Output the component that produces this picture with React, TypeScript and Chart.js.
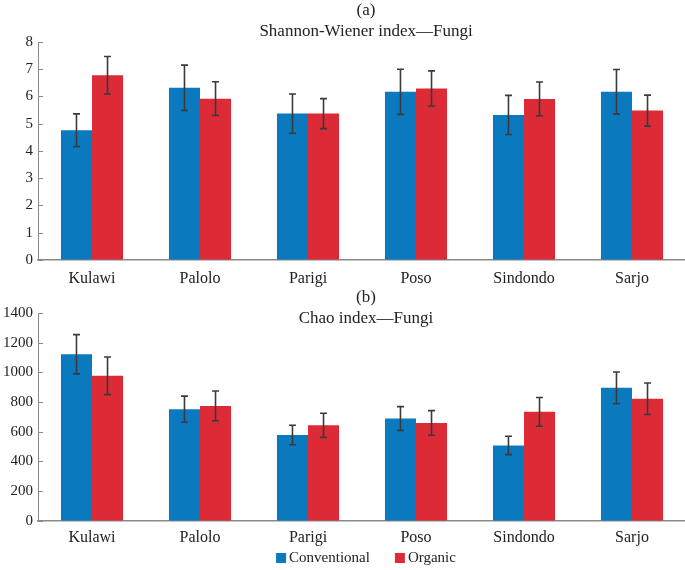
import React, { useEffect, useRef } from "react";
import { Chart, registerables } from "chart.js";

Chart.register(...registerables);

const categories = ["Kulawi", "Palolo", "Parigi", "Poso", "Sindondo", "Sarjo"];
const seriesNames = ["Conventional", "Organic"];

const shannonConventional = [4.76, 6.32, 5.37, 6.17, 5.32, 6.17];
const shannonConventionalErr = [0.6, 0.83, 0.72, 0.83, 0.72, 0.82];
const shannonOrganic = [6.78, 5.92, 5.37, 6.29, 5.91, 5.48];
const shannonOrganicErr = [0.69, 0.62, 0.55, 0.65, 0.62, 0.57];

const chaoConventional = [1122, 752, 578, 689, 508, 896];
const chaoConventionalErr = [132, 88, 66, 80, 62, 107];
const chaoOrganic = [977, 774, 643, 659, 734, 822];
const chaoOrganicErr = [127, 100, 82, 83, 97, 106];

const BLUE = "#0a79be";
const RED = "#dc2a36";
const FONT = "'Liberation Serif', 'Times New Roman', serif";
const TEXT = "#222222";
const AXIS = "#8a8a8a";

const errorBarPlugin = {
  id: "errorBars",
  afterDatasetsDraw(chart: any) {
    const ctx = chart.ctx;
    const y = chart.scales.y;
    chart.data.datasets.forEach((ds: any, i: number) => {
      const meta = chart.getDatasetMeta(i);
      meta.data.forEach((bar: any, j: number) => {
        const v = ds.data[j];
        const e = ds.errors[j];
        const yt = y.getPixelForValue(v + e);
        const yb = y.getPixelForValue(v - e);
        ctx.save();
        ctx.strokeStyle = "#3a3a3a";
        ctx.lineWidth = 1.6;
        ctx.beginPath();
        ctx.moveTo(bar.x, yt);
        ctx.lineTo(bar.x, yb);
        ctx.moveTo(bar.x - 3.5, yt);
        ctx.lineTo(bar.x + 3.5, yt);
        ctx.moveTo(bar.x - 3.5, yb);
        ctx.lineTo(bar.x + 3.5, yb);
        ctx.stroke();
        ctx.restore();
      });
    });
  },
};

const innerTicksPlugin = {
  id: "innerTicks",
  afterDraw(chart: any) {
    const ctx = chart.ctx;
    const y = chart.scales.y;
    const left = chart.chartArea.left;
    ctx.save();
    ctx.strokeStyle = AXIS;
    ctx.lineWidth = 1;
    y.ticks.forEach((t: any) => {
      const py = Math.round(y.getPixelForValue(t.value)) + 0.5;
      ctx.beginPath();
      ctx.moveTo(left, py);
      ctx.lineTo(left + 5, py);
      ctx.stroke();
    });
    ctx.restore();
  },
};

const headerPlugin = {
  id: "header",
  afterDraw(chart: any, _args: any, opts: any) {
    const ctx = chart.ctx;
    const cx = (chart.chartArea.left + chart.chartArea.right) / 2 + 4;
    ctx.save();
    ctx.fillStyle = TEXT;
    ctx.font = `17px ${FONT}`;
    ctx.textAlign = "center";
    ctx.textBaseline = "middle";
    ctx.fillText(opts.label, cx, 11);
    ctx.fillText(opts.title, cx, 32);
    if (opts.legend) {
      ctx.font = `15px ${FONT}`;
      ctx.textAlign = "left";
      const w1 = ctx.measureText(seriesNames[0]).width;
      const w2 = ctx.measureText(seriesNames[1]).width;
      const total = 10 + 3 + w1 + 25 + 10 + 3 + w2;
      let x = cx - total / 2;
      const ly = opts.legendY;
      ctx.fillStyle = BLUE;
      ctx.fillRect(x, ly - 5, 10, 10);
      x += 13;
      ctx.fillStyle = TEXT;
      ctx.fillText(seriesNames[0], x, ly);
      x += w1 + 25;
      ctx.fillStyle = RED;
      ctx.fillRect(x, ly - 5, 10, 10);
      x += 13;
      ctx.fillStyle = TEXT;
      ctx.fillText(seriesNames[1], x, ly);
    }
    ctx.restore();
  },
};

function makeConfig(
  a: number[],
  ae: number[],
  b: number[],
  be: number[],
  max: number,
  step: number,
  header: any,
  padTop: number,
  padBottom: number,
  labelPad: number
): any {
  return {
    type: "bar",
    data: {
      labels: categories,
      datasets: [
        {
          label: seriesNames[0],
          data: a,
          errors: ae,
          backgroundColor: BLUE,
          borderWidth: 0,
          categoryPercentage: 0.575,
          barPercentage: 1,
        },
        {
          label: seriesNames[1],
          data: b,
          errors: be,
          backgroundColor: RED,
          borderWidth: 0,
          categoryPercentage: 0.575,
          barPercentage: 1,
        },
      ],
    },
    options: {
      responsive: false,
      animation: false,
      devicePixelRatio: 1,
      layout: { padding: { top: padTop, bottom: padBottom, left: 0, right: 0 } },
      plugins: {
        legend: { display: false },
        tooltip: { enabled: false },
        title: { display: false },
        header,
      },
      scales: {
        x: {
          grid: { display: false, drawTicks: false },
          border: { display: true, color: AXIS, width: 1.5 },
          ticks: { color: TEXT, padding: labelPad, font: { family: FONT, size: 16 } },
        },
        y: {
          min: 0,
          max,
          afterFit(scale: any) {
            scale.width = 38;
          },
          grid: { display: false, drawTicks: false },
          border: { display: true, color: AXIS, width: 1 },
          ticks: {
            stepSize: step,
            color: TEXT,
            padding: 5,
            font: { family: FONT, size: 15 },
            callback: (v: any) => String(v),
          },
        },
      },
    },
    plugins: [errorBarPlugin, innerTicksPlugin, headerPlugin],
  };
}

export default function App() {
  const topRef = useRef<HTMLCanvasElement | null>(null);
  const botRef = useRef<HTMLCanvasElement | null>(null);

  useEffect(() => {
    const c1 = new Chart(
      topRef.current as HTMLCanvasElement,
      makeConfig(
        shannonConventional,
        shannonConventionalErr,
        shannonOrganic,
        shannonOrganicErr,
        8,
        1,
        { label: "(a)", title: "Shannon-Wiener index—Fungi", legend: false },
        42,
        -10,
        9
      )
    );
    const c2 = new Chart(
      botRef.current as HTMLCanvasElement,
      makeConfig(
        chaoConventional,
        chaoConventionalErr,
        chaoOrganic,
        chaoOrganicErr,
        1400,
        200,
        { label: "(b)", title: "Chao index—Fungi", legend: true, legendY: 271 },
        26,
        16,
        7
      )
    );
    return () => {
      c1.destroy();
      c2.destroy();
    };
  }, []);

  return (
    <div
      style={{
        position: "fixed",
        left: 0,
        top: 0,
        width: 685,
        height: 570,
        overflow: "hidden",
        background: "#ffffff",
      }}
    >
      <canvas ref={topRef} width={686} height={287} style={{ display: "block" }} />
      <canvas ref={botRef} width={686} height={283} style={{ display: "block" }} />
    </div>
  );
}
